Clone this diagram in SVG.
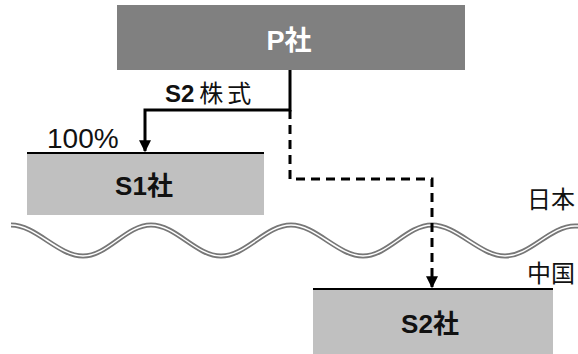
<svg xmlns="http://www.w3.org/2000/svg" width="578" height="354" viewBox="0 0 578 354">
<style>
.lbl{font-family:"Liberation Sans","Noto Sans CJK JP",sans-serif;fill:#111}
.b{font-weight:bold}
.ln{fill:none;stroke:#000;stroke-width:3}
</style>
<defs>
<marker id="ah" viewBox="0 0 10 10" refX="9" refY="5" markerWidth="4" markerHeight="4" orient="auto" markerUnits="strokeWidth">
<path d="M0,0 L10,5 L0,10 z" fill="#000"/>
</marker>
<path id="wv" d="M11,225 C36,225 58,256 83,256 C108,256 126,225 151,225 C176,225 196,256 221,256 C246,256 266,225 291,225 C316,225 338,256 363,256 C388,256 407,225 432,225 C457,225 480,256 505,256 C530,256 550,226 575,226 L578,226"/>
</defs>
<rect width="578" height="354" fill="#fff"/>
<g id="wave" fill="none">
<use href="#wv" stroke="#777" stroke-width="5"/>
<use href="#wv" stroke="#fff" stroke-width="1.5"/>
</g>
<g id="P">
<rect x="117" y="5" width="348" height="65" fill="#808080"/>
<text class="lbl b" x="289" y="50" font-size="27" text-anchor="middle" style="fill:#fff">P社</text>
</g>
<g id="S1">
<rect x="27" y="153" width="237" height="62" fill="#c0c0c0"/>
<line x1="27" y1="153" x2="264" y2="153" stroke="#000" stroke-width="2"/>
<text class="lbl b" x="144" y="195" font-size="26" text-anchor="middle">S1社</text>
</g>
<g id="S2">
<rect x="313" y="289" width="240" height="65" fill="#c0c0c0"/>
<line x1="313" y1="289" x2="553" y2="289" stroke="#000" stroke-width="2"/>
<text class="lbl b" x="430" y="333" font-size="26" text-anchor="middle">S2社</text>
</g>
<g id="connectors">
<path class="ln" d="M290,70 V110 H145 V151" marker-end="url(#ah)"/>
<path class="ln" d="M290,110 V179 H432 V287" stroke-dasharray="9,6" marker-end="url(#ah)"/>
</g>
<g id="labels">
<text class="lbl" x="47" y="148" font-size="28">100%</text>
<text class="lbl" x="165" y="102" font-size="24"><tspan font-weight="bold">S2</tspan><tspan dx="5" letter-spacing="4">株式</tspan></text>
<text class="lbl" x="527" y="208" font-size="24">日本</text>
<text class="lbl" x="527" y="282" font-size="24">中国</text>
</g>
</svg>
